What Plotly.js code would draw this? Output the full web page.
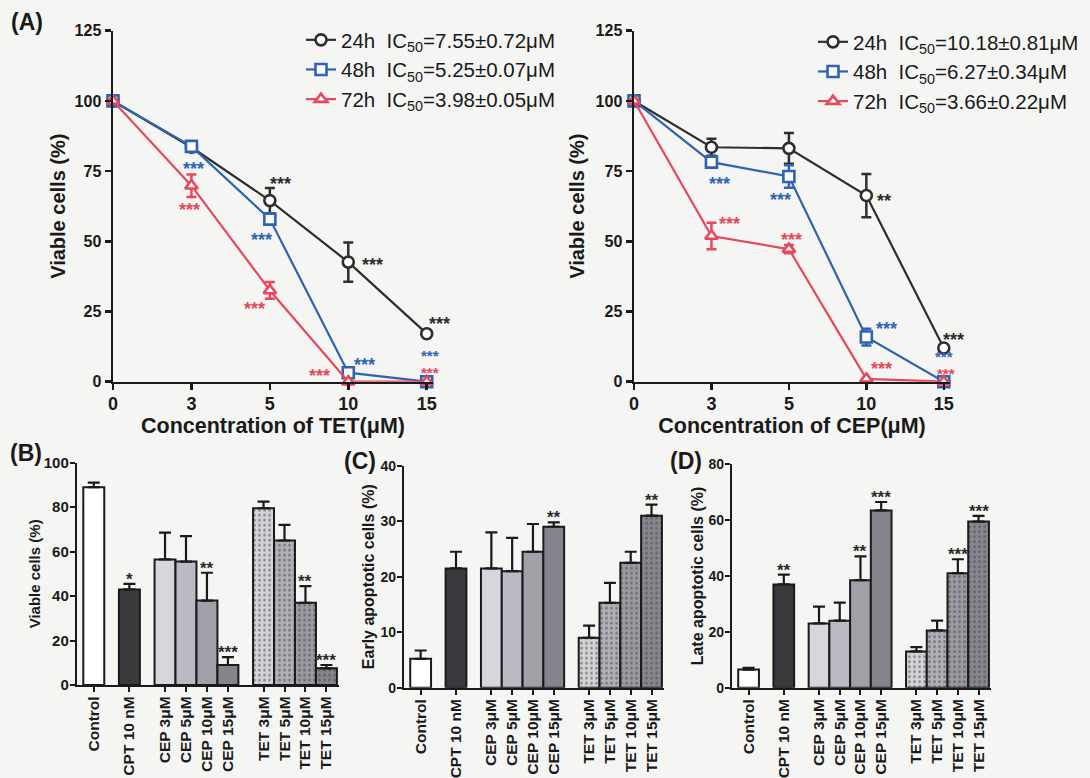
<!DOCTYPE html>
<html>
<head>
<meta charset="utf-8">
<script src="https://cdn.plot.ly/plotly-3.0.1.min.js"></script>
<style>html,body{margin:0;padding:0;background:#f5f5f3;}#chart{width:1090px;height:778px;}</style>
</head>
<body>
<div id="chart"></div>
<script>
// ---------- DATA ----------
const concLabels = ['0', '3', '5', '10', '15'];

// Panel A left: TET
const tet24 = [100, 83.5, 64.5, 42.6, 17.1];
const tet24Err = [0, 1.5, 4.5, 7, 1];
const tet48 = [100, 83.8, 57.9, 3.2, 0];
const tet48Err = [0, 1.5, 2, 1, 0];
const tet72 = [100, 69.8, 32.5, 0, 0];
const tet72Err = [0, 4, 3, 0, 0];
const tetNames = ['24h  IC<sub>50</sub>=7.55±0.72μM', '48h  IC<sub>50</sub>=5.25±0.07μM', '72h  IC<sub>50</sub>=3.98±0.05μM'];

// Panel A right: CEP
const cep24 = [100, 83.5, 83.1, 66.3, 12];
const cep24Err = [0, 3, 5.5, 7.7, 1];
const cep48 = [100, 78.2, 73.1, 15.9, 0];
const cep48Err = [0, 1.5, 4, 3, 0];
const cep72 = [100, 51.9, 47.2, 1, 0];
const cep72Err = [0, 4.7, 1.5, 0, 0];
const cepNames = ['24h  IC<sub>50</sub>=10.18±0.81μM', '48h  IC<sub>50</sub>=6.27±0.34μM', '72h  IC<sub>50</sub>=3.66±0.22μM'];

// Panels B, C, D
const barCats = ['Control', 'CPT 10 nM', 'CEP 3μM', 'CEP 5μM', 'CEP 10μM', 'CEP 15μM', 'TET 3μM', 'TET 5μM', 'TET 10μM', 'TET 15μM'];
const barGroup = [0, 1, 2, 2, 2, 2, 3, 3, 3, 3];
const viable = [89, 43, 56.5, 55.5, 38, 9, 79.5, 65, 37, 7.5];
const viableErr = [2, 2.5, 12, 11.5, 12.5, 3.5, 3, 7, 7.5, 1.5];
const viableSig = ['', '*', '', '', '**', '***', '', '', '**', '***'];
const early = [5.2, 21.5, 21.5, 21, 24.5, 29, 9, 15.3, 22.5, 31];
const earlyErr = [1.5, 3, 6.5, 6, 5, 0.8, 2.2, 3.6, 2, 2];
const earlySig = ['', '', '', '', '', '**', '', '', '', '**'];
const late = [6.5, 37, 23, 24, 38.5, 63.5, 13, 20.5, 41, 59.5];
const lateErr = [0.6, 3.5, 6, 6.5, 8.5, 3, 1.5, 3.5, 5, 2];
const lateSig = ['', '**', '', '', '**', '***', '', '', '***', '***'];

// ---------- STYLE ----------
const FONT = 'Liberation Sans, Arial, Helvetica, sans-serif';
const C24 = '#2e2e2e', C48 = '#2e63b6', C72 = '#e8485c';
const barFill = ['#ffffff', '#3a3a3e', '#d6d6dc', '#babac4', '#a0a0a8', '#84848c', '#d4d4d8', '#b0b0b8', '#9a9aa2', '#86868e'];
const barShape = ['', '', '', '', '', '', '.', '.', '.', '.'];
const groupGap = 0.7;
const barPos = barCats.map((c, i) => i + groupGap * barGroup[i]);

const traces = [];
function lineTrace(y, err, name, color, sym, xa, ya, leg) {
  return {
    type: 'scatter', mode: 'lines+markers',
    x: concLabels.map((_, i) => i), y: y, name: name,
    xaxis: xa, yaxis: ya, legend: leg, cliponaxis: false,
    line: {color: color, width: 2.2},
    marker: {symbol: sym, size: 11, color: '#ffffff', line: {color: color, width: 2.6}},
    error_y: {type: 'data', array: err, visible: true, color: color, thickness: 2.5, width: 5}
  };
}
traces.push(lineTrace(tet24, tet24Err, tetNames[0], C24, 'circle', 'x', 'y', 'legend'));
traces.push(lineTrace(tet48, tet48Err, tetNames[1], C48, 'square', 'x', 'y', 'legend'));
traces.push(lineTrace(tet72, tet72Err, tetNames[2], C72, 'triangle-up', 'x', 'y', 'legend'));
traces.push(lineTrace(cep24, cep24Err, cepNames[0], C24, 'circle', 'x2', 'y2', 'legend2'));
traces.push(lineTrace(cep48, cep48Err, cepNames[1], C48, 'square', 'x2', 'y2', 'legend2'));
traces.push(lineTrace(cep72, cep72Err, cepNames[2], C72, 'triangle-up', 'x2', 'y2', 'legend2'));

function barTrace(vals, errs, xa, ya) {
  return {
    type: 'bar', x: barPos, y: vals, xaxis: xa, yaxis: ya, width: 1, showlegend: false,
    marker: {
      color: barFill, line: {color: '#1a1a1a', width: 2},
      pattern: {shape: barShape, fgcolor: '#3a3a3a', size: 5, solidity: 0.25, fillmode: 'overlay'}
    },
    error_y: {type: 'data', symmetric: false, array: errs, arrayminus: vals.map(() => 0), color: '#1a1a1a', thickness: 2.2, width: 6}
  };
}
traces.push(barTrace(viable, viableErr, 'x3', 'y3'));
traces.push(barTrace(early, earlyErr, 'x4', 'y4'));
traces.push(barTrace(late, lateErr, 'x5', 'y5'));

// ---------- LAYOUT ----------
function lineX(dom, title) {
  return {
    domain: dom, range: [0, 4.08], tickvals: concLabels.map((_, i) => i), ticktext: concLabels,
    showline: true, linecolor: '#1a1a1a', linewidth: 2.5, ticks: 'outside', ticklen: 6, tickwidth: 2.5, tickcolor: '#1a1a1a',
    showgrid: false, zeroline: false, ticklabelstandoff: -2,
    tickfont: {family: FONT, size: 18, weight: 'bold', color: '#1a1a1a'},
    title: {text: title, font: {family: FONT, size: 21.5, weight: 'bold', color: '#1a1a1a'}, standoff: 0}
  };
}
function lineY(dom, anchor, so) {
  return {
    domain: dom, range: [0, 125], tickvals: [0, 25, 50, 75, 100, 125], anchor: anchor,
    showline: true, linecolor: '#1a1a1a', linewidth: 2.5, ticks: 'outside', ticklen: 6, tickwidth: 2.5, tickcolor: '#1a1a1a',
    showgrid: false, zeroline: false,
    tickfont: {family: FONT, size: 16, weight: 'bold', color: '#1a1a1a'},
    title: {text: 'Viable cells (%)', font: {family: FONT, size: 20, weight: 'bold', color: '#1a1a1a'}, standoff: so}
  };
}
function barX(dom, anchor) {
  return {
    domain: dom, range: [-0.8, 11.7], tickvals: barPos, ticktext: barCats, tickangle: -90, anchor: anchor,
    showline: true, linecolor: '#1a1a1a', linewidth: 2.2, ticks: 'outside', ticklen: 5, tickwidth: 2, tickcolor: '#1a1a1a',
    showgrid: false, zeroline: false, ticklabelstandoff: -2,
    tickfont: {family: FONT, size: 15.5, weight: 'bold', color: '#1a1a1a'}
  };
}
function barY(dom, anchor, rng, dt, title, tfs, tsz, so) {
  return {
    domain: dom, range: rng, dtick: dt, anchor: anchor,
    showline: true, linecolor: '#1a1a1a', linewidth: 2.2, ticks: 'outside', ticklen: 5, tickwidth: 2, tickcolor: '#1a1a1a',
    showgrid: false, zeroline: false, ticklabelstandoff: -2,
    tickfont: {family: FONT, size: tfs, weight: 'bold', color: '#1a1a1a'},
    title: {text: title, font: {family: FONT, size: tsz, weight: 'bold', color: '#1a1a1a'}, standoff: so}
  };
}

const annotations = [];
function star(xa, ya, series, idx, text, color, dx, dy, fs) {
  annotations.push({xref: xa, yref: ya, x: idx, y: series[idx], text: text, showarrow: false,
    xshift: dx, yshift: dy - 5, font: {family: FONT, size: fs || 18, weight: 'bold', color: color}});
}
// TET stars
star('x', 'y', tet48, 1, '***', C48, 2, -18);
star('x', 'y', tet24, 2, '***', C24, 11, 22);
star('x', 'y', tet72, 1, '***', C72, -2, -19);
star('x', 'y', tet48, 2, '***', C48, -8, -16);
star('x', 'y', tet72, 2, '***', C72, -15, -14);
star('x', 'y', tet24, 3, '***', C24, 24, 2);
star('x', 'y', tet24, 4, '***', C24, 13, 15);
star('x', 'y', tet48, 3, '***', C48, 16, 13);
star('x', 'y', tet72, 3, '***', C72, -29, 11);
star('x', 'y', tet48, 4, '***', C48, 3, 31, 15);
star('x', 'y', tet72, 4, '***', C72, 3, 14, 15);
// CEP stars
star('x2', 'y2', cep48, 1, '***', C48, 8, -17);
star('x2', 'y2', cep48, 2, '***', C48, -8, -19);
star('x2', 'y2', cep72, 1, '***', C72, 18, 17);
star('x2', 'y2', cep72, 2, '***', C72, 3, 14);
star('x2', 'y2', cep24, 3, '**', C24, 18, 0);
star('x2', 'y2', cep48, 3, '***', C48, 20, 13);
star('x2', 'y2', cep24, 4, '***', C24, 10, 13);
star('x2', 'y2', cep72, 3, '***', C72, 15, 15);
star('x2', 'y2', cep48, 4, '***', C48, 0, 30, 15);
star('x2', 'y2', cep72, 4, '***', C72, 2, 13, 15);

function barStars(xa, ya, vals, errs, sig) {
  sig.forEach((s, i) => {
    if (!s) return;
    annotations.push({xref: xa, yref: ya, x: barPos[i], y: vals[i] + errs[i], text: s, showarrow: false,
      yanchor: 'bottom', yshift: -7, font: {family: FONT, size: 17, weight: 'bold', color: '#2a2a2a'}});
  });
}
barStars('x3', 'y3', viable, viableErr, viableSig);
barStars('x4', 'y4', early, earlyErr, earlySig);
barStars('x5', 'y5', late, lateErr, lateSig);

function panelLabel(text, px, py) {
  annotations.push({xref: 'paper', yref: 'paper', x: px / 1090, y: 1 - py / 778, text: text, showarrow: false,
    xanchor: 'center', yanchor: 'middle', font: {family: FONT, size: 23, weight: 'bold', color: '#1a1a1a'}});
}
panelLabel('(A)', 27, 22);
panelLabel('(B)', 26, 453);
panelLabel('(C)', 360, 461);
panelLabel('(D)', 686, 461);

const legendBase = {
  font: {family: FONT, size: 20.5, color: '#1a1a1a'}, bgcolor: 'rgba(0,0,0,0)',
  xanchor: 'left', yanchor: 'top', tracegroupgap: 0, itemwidth: 30
};

const layout = {
  width: 1090, height: 778, margin: {l: 0, r: 0, t: 0, b: 0},
  paper_bgcolor: '#f5f5f3', plot_bgcolor: 'rgba(0,0,0,0)',
  font: {family: FONT},
  xaxis: Object.assign(lineX([113 / 1090, 433 / 1090], 'Concentration of TET(μM)'), {anchor: 'y'}),
  yaxis: lineY([1 - 381.7 / 778, 1 - 30.7 / 778], 'x', 4),
  xaxis2: Object.assign(lineX([634 / 1090, 950 / 1090], 'Concentration of CEP(μM)'), {anchor: 'y2'}),
  yaxis2: lineY([1 - 381.7 / 778, 1 - 30.7 / 778], 'x2', 6),
  xaxis3: barX([77 / 1090, 339 / 1090], 'y3'),
  yaxis3: barY([1 - 685 / 778, 1 - 462.7 / 778], 'x3', [0, 100], 20, 'Viable cells (%)', 15, 15, 0),
  xaxis4: barX([404 / 1090, 664 / 1090], 'y4'),
  yaxis4: barY([1 - 687.7 / 778, 1 - 465.7 / 778], 'x4', [0, 40], 10, 'Early apoptotic cells (%)', 14, 16, 2),
  xaxis5: barX([732 / 1090, 991 / 1090], 'y5'),
  yaxis5: barY([1 - 687.7 / 778, 1 - 464.3 / 778], 'x5', [0, 80], 20, 'Late apoptotic cells (%)', 14, 16, 1),
  legend: Object.assign({}, legendBase, {x: 301 / 1090, y: 1 - 20 / 778}),
  legend2: Object.assign({}, legendBase, {x: 813 / 1090, y: 1 - 22 / 778}),
  annotations: annotations,
  bargap: 0
};

Plotly.newPlot('chart', traces, layout, {displayModeBar: false, staticPlot: true});
</script>
</body>
</html>
